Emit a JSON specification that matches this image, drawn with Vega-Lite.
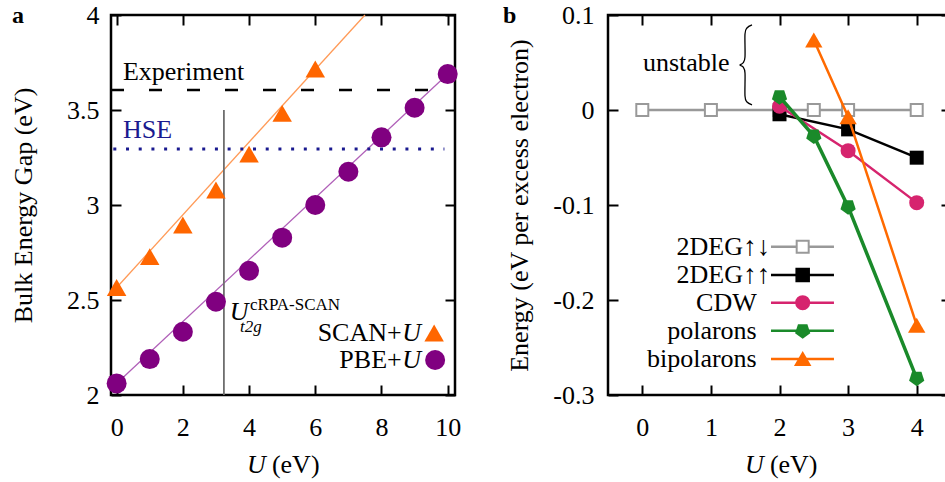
{
"$schema": "https://vega.github.io/schema/vega-lite/v6.json",
"autosize": {"type": "none"},
"padding": {"left": 111, "top": 15, "right": 834, "bottom": 467},
"background": "white",
"bounds": "flush",
"spacing": 153,
"config": {
  "view": {"stroke": "black", "strokeWidth": 2.5},
  "font": "Liberation Serif",
  "axis": {"tickSize": -10, "tickWidth": 2, "tickColor": "black", "domain": false, "grid": false,
    "labelFont": "Liberation Serif", "labelFontSize": 26, "labelColor": "black", "labelOverlap": false, "labelFlush": false,
    "titleFont": "Liberation Serif", "titleFontSize": 26, "titleFontWeight": "normal", "titleColor": "black"},
  "text": {"font": "Liberation Serif", "fontSize": 26, "color": "black", "baseline": "middle"}
},
"datasets": {
  "pbe": [{"U":0,"gap":2.061},{"U":1,"gap":2.189},{"U":2,"gap":2.333},{"U":3,"gap":2.491},{"U":4,"gap":2.654},{"U":5,"gap":2.828},{"U":6,"gap":3.0},{"U":7,"gap":3.175},{"U":8,"gap":3.356},{"U":9,"gap":3.512},{"U":10,"gap":3.689}],
  "scan": [{"U":0,"gap":2.566},{"U":1,"gap":2.728},{"U":2,"gap":2.895},{"U":3,"gap":3.079},{"U":4,"gap":3.268},{"U":5,"gap":3.482},{"U":6,"gap":3.716}],
  "pbefit": [{"U":-0.17,"gap":2.033},{"U":10.22,"gap":3.725}],
  "scanfit": [{"U":-0.17,"gap":2.533},{"U":7.5,"gap":4.0}],
  "experiment": [{"U":-0.17,"gap":3.605},{"U":9.9,"gap":3.605}],
  "hse": [{"U":-0.1,"gap":3.295},{"U":9.9,"gap":3.295}],
  "ucrpa": [{"U":3.24,"gap":2.0},{"U":3.24,"gap":3.5}],
  "ltext": [{"t":"Experiment","U":0.19,"gap":3.70},{"t":"(eV)","U":4.69,"gap":1.632}],
  "lhse": [{"t":"HSE","U":0.19,"gap":3.395}],
  "lright": [{"t":"SCAN+","U":8.61,"gap":2.326},{"t":"PBE+","U":8.61,"gap":2.184}],
  "litalic": [{"t":"U","U":8.63,"gap":2.326},{"t":"U","U":8.63,"gap":2.184},{"t":"U","U":3.42,"gap":2.437},{"t":"U","U":3.94,"gap":1.632}],
  "lsub": [{"t":"t2g","U":3.73,"gap":2.358}],
  "lsup": [{"t":"cRPA-SCAN","U":4.03,"gap":2.474}],
  "lpanel": [{"t":"a","U":-3.16,"gap":3.995}],
  "llegtri": [{"U":9.59,"gap":2.326}],
  "llegcirc": [{"U":9.62,"gap":2.184}],
  "deg_ud": [{"U":0,"E":0},{"U":1,"E":0},{"U":2,"E":0},{"U":2.5,"E":0},{"U":3,"E":0},{"U":4,"E":0}],
  "deg_uu": [{"U":2,"E":-0.0045},{"U":3,"E":-0.0204},{"U":4,"E":-0.0502}],
  "cdw": [{"U":2,"E":0.004},{"U":3,"E":-0.0428},{"U":4,"E":-0.0975}],
  "pol": [{"U":2,"E":0.014},{"U":2.5,"E":-0.0274},{"U":3,"E":-0.1018},{"U":4,"E":-0.2824}],
  "bip": [{"U":2.5,"E":0.0737},{"U":3,"E":-0.007},{"U":4,"E":-0.2265}],
  "legend": [
    {"name":"2DEG↑↓","U1":1.876,"U2":2.794,"Us":2.338,"E":-0.1439},
    {"name":"2DEG↑↑","U1":1.876,"U2":2.794,"Us":2.338,"E":-0.1737},
    {"name":"CDW","U1":1.876,"U2":2.794,"Us":2.338,"E":-0.2028},
    {"name":"polarons","U1":1.876,"U2":2.794,"Us":2.338,"E":-0.2323},
    {"name":"bipolarons","U1":1.876,"U2":2.794,"Us":2.338,"E":-0.2621}],
  "legtext": [
    {"t":"2DEG","U":1.468,"E":-0.1439},
    {"t":"2DEG","U":1.468,"E":-0.1737},
    {"t":"CDW","U":1.668,"E":-0.2028},
    {"t":"polarons","U":1.668,"E":-0.2323},
    {"t":"bipolarons","U":1.668,"E":-0.2621}],
  "legarrows": [
    {"t":"↑↓","U":1.47,"E":-0.1439},
    {"t":"↑↑","U":1.47,"E":-0.1737}],
  "rtext": [{"t":"unstable","U":0.01,"E":0.0495},{"t":"(eV)","U":1.86,"E":-0.3737}],
  "ritalic": [{"t":"U","U":1.497,"E":-0.3737}],
  "rpanel": [{"t":"b","U":-2.03,"E":0.099}],
  "brace": [
    {"i":1,"U":1.599,"E":0.0895},{"i":2,"U":1.526,"E":0.0863},{"i":3,"U":1.497,"E":0.0800},{"i":4,"U":1.497,"E":0.0558},
    {"i":5,"U":1.468,"E":0.0495},{"i":6,"U":1.424,"E":0.0474},{"i":7,"U":1.468,"E":0.0453},{"i":8,"U":1.497,"E":0.0389},
    {"i":9,"U":1.497,"E":0.0147},{"i":10,"U":1.526,"E":0.0084},{"i":11,"U":1.599,"E":0.0053}]
},
"hconcat": [
{
  "width": 344, "height": 380,
  "resolve": {"axis": {"x": "independent", "y": "independent"}},
  "layer": [
    {"data": {"name": "pbefit"}, "mark": {"type": "line", "color": "#b060b8", "strokeWidth": 1.3},
     "encoding": {
       "x": {"field": "U", "type": "quantitative", "scale": {"domain": [-0.17, 10.22], "nice": false, "zero": false},
             "axis": {"orient": "bottom", "values": [0,2,4,6,8,10], "title": null, "labelDx": 4, "labelPadding": 29}},
       "y": {"field": "gap", "type": "quantitative", "scale": {"domain": [2, 4], "nice": false, "zero": false},
             "axis": {"orient": "left", "values": [2,2.5,3,3.5,4], "format": "~g", "labelPadding": 22,
                      "title": "Bulk Energy Gap (eV)", "titleX": -80, "titleY": 190, "titleAngle": -90, "titleAlign": "center", "titleBaseline": "alphabetic"}}}},
    {"data": {"name": "scanfit"}, "mark": {"type": "line", "color": "#ff9a57", "strokeWidth": 1.3},
     "encoding": {
       "x": {"field": "U", "type": "quantitative", "scale": {"domain": [-0.17, 10.22], "nice": false, "zero": false},
             "axis": {"orient": "top", "values": [0,2,4,6,8,10], "title": null, "labels": false}},
       "y": {"field": "gap", "type": "quantitative", "scale": {"domain": [2, 4], "nice": false, "zero": false},
             "axis": {"orient": "right", "values": [2,2.5,3,3.5,4], "title": null, "labels": false}}}},
    {"data": {"name": "experiment"}, "mark": {"type": "line", "color": "black", "strokeWidth": 2.5, "strokeDash": [13, 25]},
     "encoding": {"x": {"field": "U", "type": "quantitative", "axis": null}, "y": {"field": "gap", "type": "quantitative", "axis": null}}},
    {"data": {"name": "hse"}, "mark": {"type": "line", "color": "#1a1a8f", "strokeWidth": 3, "strokeDash": [3, 9.7]},
     "encoding": {"x": {"field": "U", "type": "quantitative", "axis": null}, "y": {"field": "gap", "type": "quantitative", "axis": null}}},
    {"data": {"name": "ucrpa"}, "mark": {"type": "line", "color": "#6e6e6e", "strokeWidth": 1.8},
     "encoding": {"x": {"field": "U", "type": "quantitative", "axis": null}, "y": {"field": "gap", "type": "quantitative", "axis": null}}},
    {"data": {"name": "scan"}, "mark": {"type": "point", "shape": "triangle-up", "filled": true, "color": "#ff6600", "size": 380, "opacity": 1},
     "encoding": {"x": {"field": "U", "type": "quantitative", "axis": null}, "y": {"field": "gap", "type": "quantitative", "axis": null}}},
    {"data": {"name": "pbe"}, "mark": {"type": "point", "shape": "circle", "filled": true, "color": "#800080", "size": 400, "opacity": 1},
     "encoding": {"x": {"field": "U", "type": "quantitative", "axis": null}, "y": {"field": "gap", "type": "quantitative", "axis": null}}},
    {"data": {"name": "llegtri"}, "mark": {"type": "point", "shape": "triangle-up", "filled": true, "color": "#ff6600", "size": 380, "opacity": 1},
     "encoding": {"x": {"field": "U", "type": "quantitative", "axis": null}, "y": {"field": "gap", "type": "quantitative", "axis": null}}},
    {"data": {"name": "llegcirc"}, "mark": {"type": "point", "shape": "circle", "filled": true, "color": "#800080", "size": 400, "opacity": 1},
     "encoding": {"x": {"field": "U", "type": "quantitative", "axis": null}, "y": {"field": "gap", "type": "quantitative", "axis": null}}},
    {"data": {"name": "ltext"}, "mark": {"type": "text", "align": "left"},
     "encoding": {"x": {"field": "U", "type": "quantitative", "axis": null}, "y": {"field": "gap", "type": "quantitative", "axis": null}, "text": {"field": "t"}}},
    {"data": {"name": "lhse"}, "mark": {"type": "text", "align": "left", "color": "#1a1a8f"},
     "encoding": {"x": {"field": "U", "type": "quantitative", "axis": null}, "y": {"field": "gap", "type": "quantitative", "axis": null}, "text": {"field": "t"}}},
    {"data": {"name": "lright"}, "mark": {"type": "text", "align": "right"},
     "encoding": {"x": {"field": "U", "type": "quantitative", "axis": null}, "y": {"field": "gap", "type": "quantitative", "axis": null}, "text": {"field": "t"}}},
    {"data": {"name": "litalic"}, "mark": {"type": "text", "align": "left", "fontStyle": "italic"},
     "encoding": {"x": {"field": "U", "type": "quantitative", "axis": null}, "y": {"field": "gap", "type": "quantitative", "axis": null}, "text": {"field": "t"}}},
    {"data": {"name": "lsub"}, "mark": {"type": "text", "align": "left", "fontStyle": "italic", "fontSize": 17},
     "encoding": {"x": {"field": "U", "type": "quantitative", "axis": null}, "y": {"field": "gap", "type": "quantitative", "axis": null}, "text": {"field": "t"}}},
    {"data": {"name": "lsup"}, "mark": {"type": "text", "align": "left", "fontSize": 17},
     "encoding": {"x": {"field": "U", "type": "quantitative", "axis": null}, "y": {"field": "gap", "type": "quantitative", "axis": null}, "text": {"field": "t"}}},
    {"data": {"name": "lpanel"}, "mark": {"type": "text", "align": "left", "fontWeight": "bold", "fontSize": 24},
     "encoding": {"x": {"field": "U", "type": "quantitative", "axis": null}, "y": {"field": "gap", "type": "quantitative", "axis": null}, "text": {"field": "t"}}}
  ]
},
{
  "width": 343, "height": 380,
  "resolve": {"axis": {"x": "independent", "y": "independent"}},
  "layer": [
    {"data": {"name": "deg_ud"},
     "mark": {"type": "line", "color": "#999999", "strokeWidth": 2.5,
              "point": {"shape": "square", "filled": true, "fill": "white", "stroke": "#999999", "strokeWidth": 2, "size": 144, "opacity": 1}},
     "encoding": {
       "x": {"field": "U", "type": "quantitative", "scale": {"domain": [-0.5, 4.5], "nice": false, "zero": false},
             "axis": {"orient": "bottom", "values": [0,1,2,3,4], "title": null, "labelDx": 3, "labelPadding": 29}},
       "y": {"field": "E", "type": "quantitative", "scale": {"domain": [-0.3, 0.1], "nice": false, "zero": false},
             "axis": {"orient": "left", "values": [-0.3,-0.2,-0.1,0,0.1], "labelPadding": 24,
                      "labelExpr": "datum.value == 0 ? '0' : (datum.value < 0 ? '-' : '') + format(abs(datum.value), '.1f')",
                      "title": "Energy (eV per excess electron)", "titleX": -81, "titleY": 190, "titleAngle": -90, "titleAlign": "center", "titleBaseline": "alphabetic"}}}},
    {"data": {"name": "deg_uu"},
     "mark": {"type": "line", "color": "black", "strokeWidth": 2.5,
              "point": {"shape": "square", "filled": true, "color": "black", "size": 196, "opacity": 1}},
     "encoding": {
       "x": {"field": "U", "type": "quantitative", "scale": {"domain": [-0.5, 4.5], "nice": false, "zero": false},
             "axis": {"orient": "top", "values": [0,1,2,3,4], "title": null, "labels": false}},
       "y": {"field": "E", "type": "quantitative", "scale": {"domain": [-0.3, 0.1], "nice": false, "zero": false},
             "axis": {"orient": "right", "values": [-0.3,-0.2,-0.1,0,0.1], "title": null, "labels": false}}}},
    {"data": {"name": "cdw"},
     "mark": {"type": "line", "color": "#d6246e", "strokeWidth": 2.5,
              "point": {"shape": "circle", "filled": true, "color": "#d6246e", "size": 225, "opacity": 1}},
     "encoding": {"x": {"field": "U", "type": "quantitative", "axis": null}, "y": {"field": "E", "type": "quantitative", "axis": null}}},
    {"data": {"name": "pol"},
     "mark": {"type": "line", "color": "#1a8a2a", "strokeWidth": 3.5,
              "point": {"shape": "M-0.588,-0.809L0.588,-0.809L0.951,0.309L0,1L-0.951,0.309Z", "filled": true, "color": "#1a8a2a", "size": 256, "opacity": 1}},
     "encoding": {"x": {"field": "U", "type": "quantitative", "axis": null}, "y": {"field": "E", "type": "quantitative", "axis": null}}},
    {"data": {"name": "bip"},
     "mark": {"type": "line", "color": "#ff6a00", "strokeWidth": 2.5,
              "point": {"shape": "triangle-up", "filled": true, "color": "#ff6a00", "size": 300, "opacity": 1}},
     "encoding": {"x": {"field": "U", "type": "quantitative", "axis": null}, "y": {"field": "E", "type": "quantitative", "axis": null}}},
    {"data": {"name": "legend"}, "mark": {"type": "rule"},
     "encoding": {
       "x": {"field": "U1", "type": "quantitative", "axis": null}, "x2": {"field": "U2"},
       "y": {"field": "E", "type": "quantitative", "axis": null},
       "color": {"field": "name", "type": "nominal", "legend": null,
                 "scale": {"domain": ["2DEG↑↓","2DEG↑↑","CDW","polarons","bipolarons"], "range": ["#999999","black","#d6246e","#1a8a2a","#ff6a00"]}},
       "strokeWidth": {"field": "name", "type": "nominal", "legend": null,
                 "scale": {"domain": ["2DEG↑↓","2DEG↑↑","CDW","polarons","bipolarons"], "range": [2.5,2.5,2.5,3.5,2.5]}}}},
    {"data": {"name": "legend"}, "mark": {"type": "point", "filled": true, "strokeWidth": 2, "opacity": 1},
     "encoding": {
       "x": {"field": "Us", "type": "quantitative", "axis": null},
       "y": {"field": "E", "type": "quantitative", "axis": null},
       "shape": {"field": "name", "type": "nominal", "legend": null,
                 "scale": {"domain": ["2DEG↑↓","2DEG↑↑","CDW","polarons","bipolarons"], "range": ["square","square","circle","M-0.588,-0.809L0.588,-0.809L0.951,0.309L0,1L-0.951,0.309Z","triangle-up"]}},
       "size": {"field": "name", "type": "nominal", "legend": null,
                 "scale": {"domain": ["2DEG↑↓","2DEG↑↑","CDW","polarons","bipolarons"], "range": [144,196,225,256,300]}},
       "fill": {"field": "name", "type": "nominal", "legend": null,
                 "scale": {"domain": ["2DEG↑↓","2DEG↑↑","CDW","polarons","bipolarons"], "range": ["white","black","#d6246e","#1a8a2a","#ff6a00"]}},
       "stroke": {"field": "name", "type": "nominal", "legend": null,
                 "scale": {"domain": ["2DEG↑↓","2DEG↑↑","CDW","polarons","bipolarons"], "range": ["#999999","black","#d6246e","#1a8a2a","#ff6a00"]}}}},
    {"data": {"name": "legtext"}, "mark": {"type": "text", "align": "right"},
     "encoding": {"x": {"field": "U", "type": "quantitative", "axis": null}, "y": {"field": "E", "type": "quantitative", "axis": null}, "text": {"field": "t"}}},
    {"data": {"name": "legarrows"}, "mark": {"type": "text", "align": "left", "fontWeight": "bold", "fontSize": 27},
     "encoding": {"x": {"field": "U", "type": "quantitative", "axis": null}, "y": {"field": "E", "type": "quantitative", "axis": null}, "text": {"field": "t"}}},
    {"data": {"name": "rtext"}, "mark": {"type": "text", "align": "left"},
     "encoding": {"x": {"field": "U", "type": "quantitative", "axis": null}, "y": {"field": "E", "type": "quantitative", "axis": null}, "text": {"field": "t"}}},
    {"data": {"name": "ritalic"}, "mark": {"type": "text", "align": "left", "fontStyle": "italic"},
     "encoding": {"x": {"field": "U", "type": "quantitative", "axis": null}, "y": {"field": "E", "type": "quantitative", "axis": null}, "text": {"field": "t"}}},
    {"data": {"name": "rpanel"}, "mark": {"type": "text", "align": "left", "fontWeight": "bold", "fontSize": 24},
     "encoding": {"x": {"field": "U", "type": "quantitative", "axis": null}, "y": {"field": "E", "type": "quantitative", "axis": null}, "text": {"field": "t"}}},
    {"data": {"name": "brace"}, "mark": {"type": "line", "color": "black", "strokeWidth": 1.3, "interpolate": "cardinal"},
     "encoding": {"x": {"field": "U", "type": "quantitative", "axis": null}, "y": {"field": "E", "type": "quantitative", "axis": null}, "order": {"field": "i", "type": "quantitative"}}}
  ]
}
]
}
